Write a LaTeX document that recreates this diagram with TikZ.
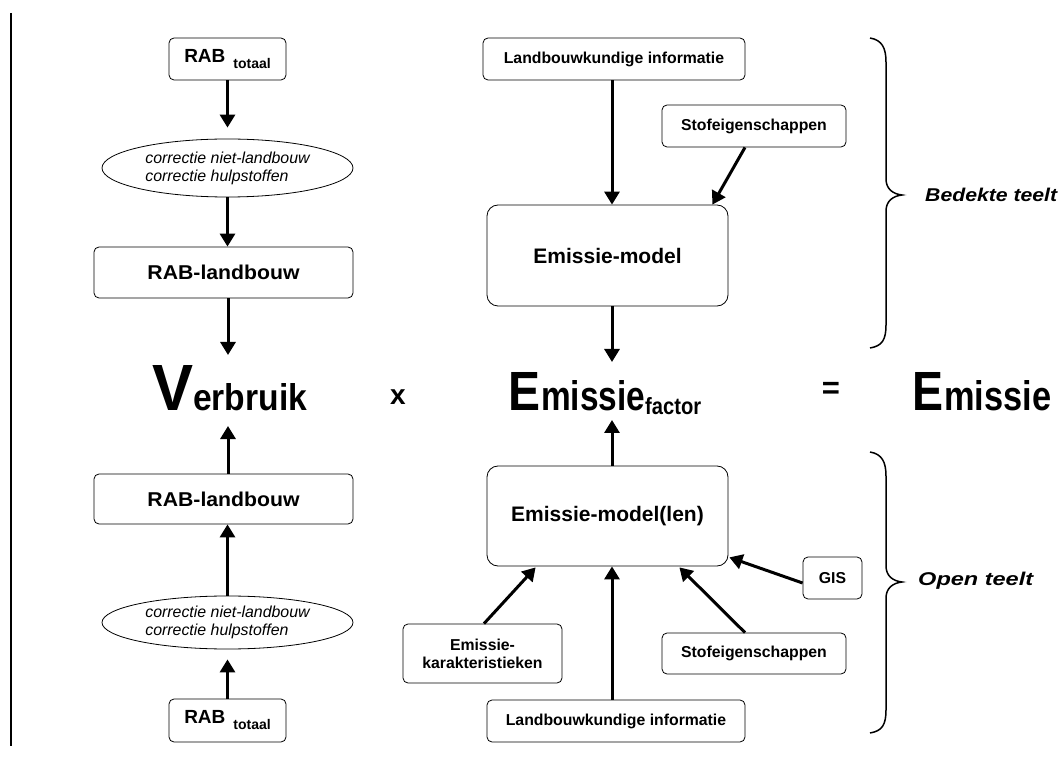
\documentclass[tikz,border=0pt]{standalone}
\usepackage{fontspec}
\setmainfont{Liberation Sans}
\usetikzlibrary{arrows.meta,shapes.geometric}

% font size given in points (one point = one unit of the canvas)
\newcommand{\pxsize}[1]{\fontsize{#1}{#1}\selectfont}
% stretch a text horizontally to a given width, keeping its height
\newcommand{\hfit}[2]{\resizebox{#1}{\height}{#2}}

\tikzset{
  smallbox/.style={draw, rounded corners=5pt, line width=0.8pt, inner sep=0pt,
    align=center, font=\bfseries\fontsize{15.8}{18}\selectfont},
  modelbox/.style={smallbox, rounded corners=11pt, font=\bfseries\pxsize{21}},
  corr/.style={draw, ellipse, line width=0.8pt, inner sep=0pt, align=left,
    font=\itshape\fontsize{15.9}{18}\selectfont},
  arr/.style={-{Triangle[length=13pt,width=15pt]}, line width=3pt},
  brace/.style={line width=1.5pt},
  teelt/.style={anchor=west, inner sep=0pt, font=\bfseries\itshape\pxsize{18.5}},
  bigword/.style={anchor=base west, inner sep=0pt, font=\bfseries},
}

\begin{document}
\begin{tikzpicture}[x=1pt, y=-1pt]
\useasboundingbox (0,0) rectangle (1061,759);

% separator on the left
\draw[line width=2.5pt] (11,13) coordinate (septop) -- (11,746) coordinate (sepbot);

% ---------- left column: Verbruik ----------
\node[smallbox, minimum width=117pt, minimum height=42pt] (rabtop) at (227.5,59)
  {\pxsize{19}RAB\hspace{8pt}\raisebox{-6pt}{\pxsize{14}totaal}};
\node[corr, minimum width=251pt, minimum height=58pt] (corrtop) at (227.5,168)
  {correctie niet-landbouw\\correctie hulpstoffen};
\node[smallbox, minimum width=259pt, minimum height=51pt] (landtop) at (223.5,272.5)
  {\pxsize{20}\hfit{152pt}{RAB-landbouw}};

\node[bigword] (verbruik) at (152,410)
  {\resizebox{41pt}{45pt}{V}\resizebox{114pt}{27pt}{erbruik}};
\coordinate (vtip1) at (228,355);
\coordinate (vtip2) at (228,426);

\node[smallbox, minimum width=259pt, minimum height=50pt] (landbot) at (223.5,499)
  {\pxsize{20}\hfit{152pt}{RAB-landbouw}};
\node[corr, minimum width=251pt, minimum height=53pt] (corrbot) at (227.5,622.5)
  {correctie niet-landbouw\\correctie hulpstoffen};
\node[smallbox, minimum width=117pt, minimum height=43pt] (rabbot) at (227.5,720.5)
  {\pxsize{19}RAB\hspace{8pt}\raisebox{-6pt}{\pxsize{14}totaal}};

\draw[arr] (rabtop.south) -- ([yshift=11pt]corrtop.north);
\draw[arr] (corrtop.south) -- (corrtop.south |- landtop.north);
\draw[arr] (landtop.south -| vtip1) -- (vtip1);
\draw[arr] (landbot.north -| vtip2) -- (vtip2);
\draw[arr] (corrbot.north) -- (corrbot.north |- landbot.south);
\draw[arr] (rabbot.north) -- ([yshift=-10pt]corrbot.south);

% ---------- the equation ----------
\node[font=\bfseries\pxsize{28}, inner sep=0pt] (times) at (398,397) {x};
\node[bigword] (emfactor) at (508,410)
  {\resizebox{32pt}{38pt}{E}\hspace{1pt}\resizebox{104pt}{30pt}{missie}%
   \raisebox{-5pt}{\resizebox{56pt}{17pt}{factor}}};
\node[font=\bfseries\pxsize{31}, inner sep=0pt] (equals) at (831,390) {=};
\node[bigword] (emissie) at (912,410)
  {\resizebox{31pt}{38pt}{E}\hspace{1pt}\resizebox{107pt}{30pt}{missie}};
\coordinate (eftop) at (612,362);
\coordinate (efbot) at (612,420);

% ---------- covered cultivation ----------
\node[smallbox, minimum width=262pt, minimum height=42pt] (lbitop) at (614,59)
  {Landbouwkundige informatie};
\node[smallbox, minimum width=184pt, minimum height=42pt] (stoftop) at (754,126)
  {Stofeigenschappen};
\node[modelbox, minimum width=241pt, minimum height=101pt] (modeltop) at (607.5,255.5)
  {Emissie-model};

\draw[arr] (lbitop.south -| eftop) -- (modeltop.north -| eftop);
\draw[arr] ([xshift=-9pt]stoftop.south) -- ([xshift=-16pt]modeltop.north east);
\draw[arr] (modeltop.south -| eftop) -- (eftop);

% ---------- open field cultivation ----------
\node[modelbox, minimum width=241pt, minimum height=100pt] (modelbot) at (607.5,516)
  {Emissie-model(len)};
\node[smallbox, minimum width=159pt, minimum height=59pt] (kar) at (482.5,653.5)
  {Emissie-\\karakteristieken};
\node[smallbox, minimum width=258pt, minimum height=42pt] (lbibot) at (616,721)
  {Landbouwkundige informatie};
\node[smallbox, minimum width=184pt, minimum height=41pt] (stofbot) at (754,653.5)
  {Stofeigenschappen};
\node[smallbox, minimum width=59pt, minimum height=42pt] (gis) at (832.5,578)
  {GIS};

\draw[arr] (modelbot.north -| efbot) -- (efbot);
\draw[arr] ([xshift=1.5pt]kar.north) -- ([xshift=49pt,yshift=-1pt]modelbot.south west);
\draw[arr] (lbibot.north -| efbot) -- (modelbot.south -| efbot);
\draw[arr] ([xshift=-9pt]stofbot.north) -- ([xshift=-49pt,yshift=-1pt]modelbot.south east);
\draw[arr] ([yshift=-5pt]gis.west) -- ([xshift=1pt,yshift=9pt]modelbot.south east);

% ---------- braces ----------
\draw[brace] (870,38) .. controls (882,40) and (886,48) .. (886,62)
  -- (886,179) .. controls (886,189) and (893,194) .. (902,195)
  .. controls (893,196) and (886,201) .. (886,211)
  -- (886,325) .. controls (886,340) and (882,346) .. (870,348);
\draw[brace] (870,452) .. controls (882,454) and (886,462) .. (886,476)
  -- (886,566) .. controls (886,576) and (893,581) .. (902,582)
  .. controls (893,583) and (886,588) .. (886,598)
  -- (886,710) .. controls (886,725) and (882,731) .. (870,733);

\node[teelt] (bedekt) at (925,195) {\hfit{132pt}{Bedekte teelt}};
\node[teelt] (open) at (918,581) {\hfit{115pt}{Open teelt}};

\end{tikzpicture}
\end{document}
